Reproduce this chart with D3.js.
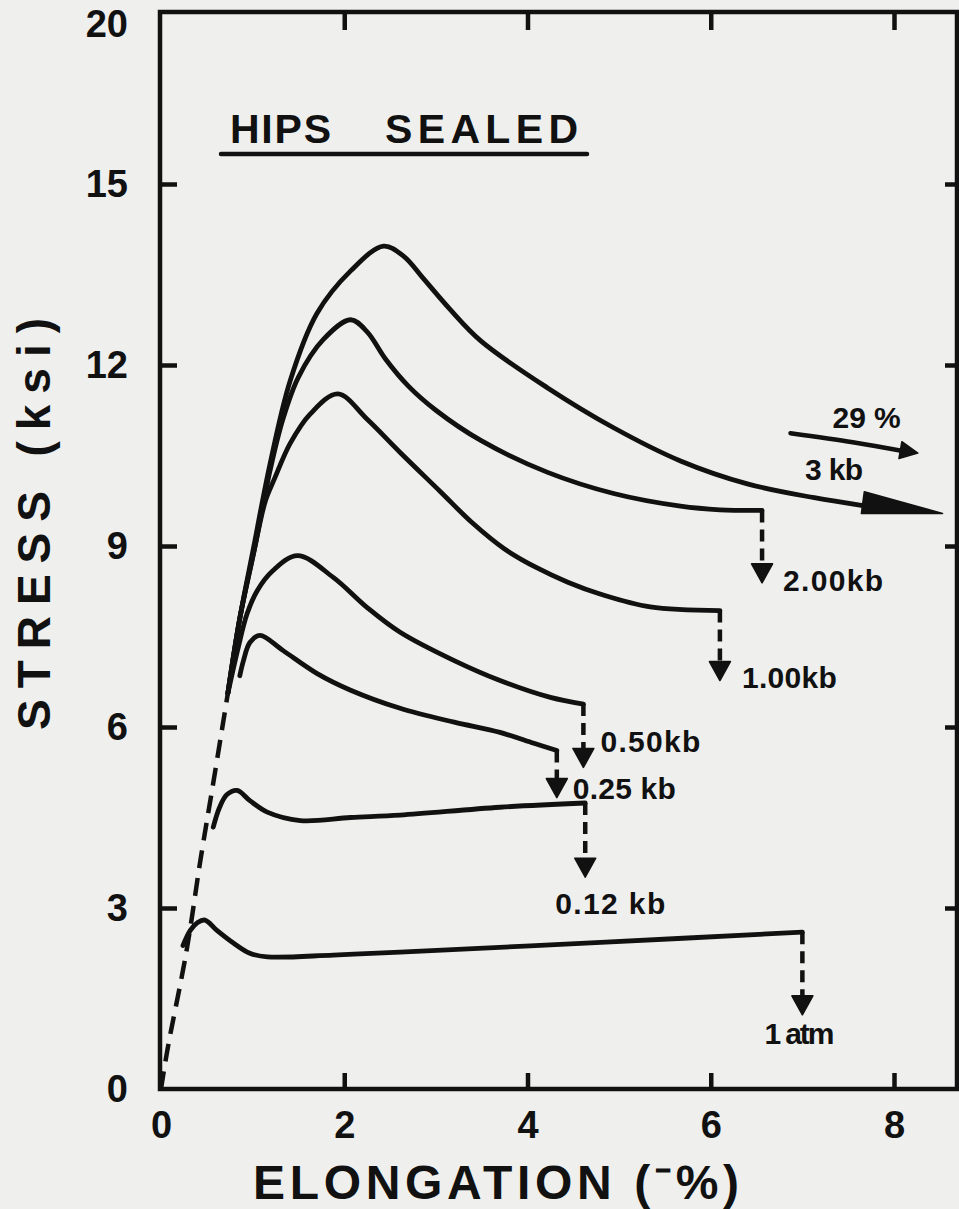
<!DOCTYPE html>
<html><head><meta charset="utf-8">
<script src="https://cdn.jsdelivr.net/npm/d3@7"></script>
<style>
html,body{margin:0;padding:0;background:#efefed;}
svg{display:block;}
text{font-family:"Liberation Sans",Arial,sans-serif;font-weight:bold;fill:#111;}
</style></head><body>
<svg id="chart" width="959" height="1209"></svg>
<script>
// ---------- data ----------
const xTickValues = [0, 2, 4, 6, 8];
const xTickLabels = ["0", "2", "4", "6", "8"];
const yTickValues = [0, 3, 6, 9, 12, 15, 17.65];
const yTickLabels = ["0", "3", "6", "9", "12", "15", "20"];

const seriesNames = ["3 kb", "2.00kb", "1.00kb", "0.50kb", "0.25 kb", "0.12 kb", "1 atm"];

const elasticLine = [[0,0],[0.07,0.65],[0.28,2.30],[0.43,3.79],[0.57,5.07],[0.73,6.56]];

const curve3kb = [[0.73,6.56],[0.86,7.8],[1.01,8.97],[1.19,10.36],[1.41,11.74],[1.70,12.85],[2.07,13.56],[2.43,13.97],[2.65,13.80],[2.86,13.44],[3.15,12.93],[3.49,12.40],[4.22,11.62],[4.94,10.96],[5.67,10.41],[6.40,10.03],[7.13,9.80],[7.66,9.67]];
const curve2kb = [[0.73,6.56],[0.86,7.8],[1.02,8.95],[1.19,10.25],[1.33,11.10],[1.50,11.80],[1.77,12.42],[2.07,12.75],[2.25,12.55],[2.45,12.10],[2.70,11.65],[3.00,11.25],[3.49,10.75],[4.22,10.22],[4.94,9.87],[5.67,9.66],[6.10,9.60],[6.56,9.59]];
const curve1kb = [[0.73,6.56],[0.86,7.8],[1.02,8.95],[1.14,9.75],[1.24,10.12],[1.41,10.70],[1.63,11.19],[1.93,11.52],[2.25,11.10],[2.61,10.55],[3.05,9.90],[3.40,9.38],[3.75,8.95],[4.10,8.64],[4.44,8.40],[4.80,8.20],[5.34,7.99],[6.10,7.93]];
const curve050kb = [[0.73,6.56],[0.84,7.3],[0.94,7.88],[1.05,8.26],[1.22,8.59],[1.49,8.84],[1.88,8.48],[2.25,7.98],[2.61,7.57],[3.20,7.10],[3.70,6.77],[4.25,6.49],[4.61,6.38]];
const curve025kb = [[0.86,6.85],[0.90,7.10],[0.97,7.40],[1.08,7.52],[1.33,7.27],[1.70,6.89],[2.07,6.61],[2.61,6.31],[3.20,6.08],[3.70,5.91],[4.07,5.73],[4.32,5.61]];
const curve012kb = [[0.57,4.34],[0.64,4.67],[0.72,4.88],[0.83,4.95],[0.97,4.78],[1.16,4.59],[1.52,4.45],[2.07,4.50],[2.61,4.54],[3.70,4.67],[4.63,4.74]];
const curve1atm = [[0.24,2.38],[0.32,2.63],[0.40,2.76],[0.48,2.80],[0.61,2.63],[0.79,2.42],[0.97,2.25],[1.16,2.19],[1.88,2.22],[2.61,2.27],[4.80,2.43],[7.00,2.60]];

// stress reached by the failure arrows (null: no failure, arrow continues)
const dropStress = [null, 8.39, 6.77, 5.33, 4.83, 3.51, 1.23];
// continuation arrow of the 3 kb curve
const arrow3kbTip = [8.53, 9.54];
// "29 %" annotation arrow
const arrow29 = [[6.87,10.87],[7.55,10.72],[8.26,10.54]];
const note29 = "29 %";
const title = ["HIPS", "SEALED"];
const xTitle = "ELONGATION (\u207B%)";
const yTitle = "STRESS (ksi)";

const curves = [curve3kb, curve2kb, curve1kb, curve050kb, curve025kb, curve012kb, curve1atm];

// ---------- layout ----------
const ink = "#111";
const frame = {left:160, right:957, top:12, bottom:1089};
const svg = d3.select("#chart");
svg.append("rect").attr("width",959).attr("height",1209).attr("fill","#efefed");

const x = d3.scaleLinear().domain([0, 8]).range([161, 894]);
const y = d3.scaleLinear().domain([0, 15]).range([1089, 184]);

// frame
svg.append("rect")
  .attr("x", frame.left).attr("y", frame.top)
  .attr("width", frame.right - frame.left).attr("height", frame.bottom - frame.top)
  .attr("fill","none").attr("stroke",ink).attr("stroke-width",4.5);

function styleAxis(g, fs){
  g.select(".domain").remove();
  g.selectAll(".tick line").attr("stroke",ink).attr("stroke-width",4.5);
  g.selectAll(".tick text").attr("font-size",fs).attr("fill",ink)
    .attr("font-family",'"Liberation Sans",Arial,sans-serif').attr("font-weight","bold");
}

// bottom axis
const gB = svg.append("g").attr("transform",`translate(0,${frame.bottom})`)
  .call(d3.axisBottom(x).tickValues(xTickValues).tickFormat((d,i)=>xTickLabels[i])
        .tickSizeInner(-16).tickSizeOuter(0).tickPadding(22));
styleAxis(gB, 38);
gB.selectAll(".tick").filter(d=>d===0).select("line").remove();

// top axis ticks
const gT = svg.append("g").attr("transform",`translate(0,${frame.top})`)
  .call(d3.axisTop(x).tickValues(xTickValues.slice(1)).tickFormat("")
        .tickSizeInner(-18).tickSizeOuter(0));
styleAxis(gT, 0);

// left axis
const gL = svg.append("g").attr("transform",`translate(${frame.left},0)`)
  .call(d3.axisLeft(y).tickValues(yTickValues).tickFormat((d,i)=>yTickLabels[i])
        .tickSizeInner(-17).tickSizeOuter(0).tickPadding(32));
styleAxis(gL, 38);
gL.selectAll(".tick").filter(d=>d===0 || d>15).select("line").remove();

// right axis ticks
const gR = svg.append("g").attr("transform",`translate(${frame.right},0)`)
  .call(d3.axisRight(y).tickValues(yTickValues.filter(v=>v>0 && v<=15)).tickFormat("")
        .tickSizeInner(-12).tickSizeOuter(0));
styleAxis(gR, 0);

// axis titles
svg.append("text").attr("x",253).attr("y",1199).attr("font-size",48)
  .attr("textLength",486).attr("lengthAdjust","spacing").text(xTitle);
svg.append("text").attr("transform","translate(50,730) rotate(-90)")
  .attr("font-size",46).attr("textLength",412).attr("lengthAdjust","spacing").text(yTitle);

// chart title
svg.append("text").attr("x",230).attr("y",143).attr("font-size",41)
  .attr("textLength",101).attr("lengthAdjust","spacing").text(title[0]);
svg.append("text").attr("x",385).attr("y",143).attr("font-size",41)
  .attr("textLength",193).attr("lengthAdjust","spacing").text(title[1]);
svg.append("line").attr("x1",221).attr("x2",587).attr("y1",154).attr("y2",154)
  .attr("stroke",ink).attr("stroke-width",4.5).attr("stroke-linecap","round");

// lines
const line = d3.line().x(d=>x(d[0])).y(d=>y(d[1])).curve(d3.curveCatmullRom.alpha(0.5));

svg.append("path").attr("d", line(elasticLine)).attr("fill","none")
  .attr("stroke",ink).attr("stroke-width",4.5).attr("stroke-dasharray","18,10");

curves.forEach(c=>{
  svg.append("path").attr("d", line(c)).attr("fill","none")
    .attr("stroke",ink).attr("stroke-width",4.8)
    .attr("stroke-linecap","round").attr("stroke-linejoin","round");
});

function head(tip, base, halfW){
  const dx=tip[0]-base[0], dy=tip[1]-base[1], L=Math.hypot(dx,dy);
  const nx=-dy/L, ny=dx/L;
  return [tip,[base[0]+nx*halfW,base[1]+ny*halfW],[base[0]-nx*halfW,base[1]-ny*halfW]];
}
function drawHead(pts){
  svg.append("path").attr("d","M"+pts.map(p=>p.join(",")).join("L")+"Z")
    .attr("fill",ink).attr("stroke",ink).attr("stroke-width",1.5).attr("stroke-linejoin","round");
}

// 3 kb continuation arrow
{
  const last = curve3kb[curve3kb.length-1];
  const base = [x(last[0]), y(last[1])-3];
  const tip = [x(arrow3kbTip[0]), y(arrow3kbTip[1])];
  drawHead(head(tip, base, 11));
}

// failure drop arrows and labels
const labelLayout = [
  null,
  {dx:21, dy:8, anchor:"start", len:100},
  {dx:22, dy:7, anchor:"start", len:95},
  {dx:17, dy:-15, anchor:"start", len:100},
  {dx:16, dy:1, anchor:"start", len:103},
  {dx:-30, dy:37, anchor:"start", len:110},
  {dx:-38, dy:29, anchor:"start", len:70}
];
curves.forEach((c,i)=>{
  if (dropStress[i]===null) return;
  const end = c[c.length-1];
  const px = x(end[0]), py0 = y(end[1]), tipY = y(dropStress[i]);
  svg.append("line").attr("x1",px).attr("x2",px).attr("y1",py0).attr("y2",tipY-14)
    .attr("stroke",ink).attr("stroke-width",4.5).attr("stroke-dasharray","12,7");
  drawHead(head([px,tipY],[px,tipY-19],10.5));
  const L = labelLayout[i];
  svg.append("text").attr("x",px+L.dx).attr("y",tipY+L.dy).attr("font-size",30)
    .attr("text-anchor",L.anchor).attr("textLength",L.len).attr("lengthAdjust","spacing")
    .text(seriesNames[i]);
});

// 3 kb label
svg.append("text").attr("x",x(7.03)).attr("y",y(10.09)).attr("font-size",30)
  .attr("textLength",58).attr("lengthAdjust","spacing").text(seriesNames[0]);

// 29 % annotation
{
  const ln = d3.line().x(d=>x(d[0])).y(d=>y(d[1])).curve(d3.curveNatural);
  const pts = arrow29.slice(0,2).concat([[arrow29[2][0]-0.15, arrow29[2][1]+0.03]]);
  svg.append("path").attr("d", ln(pts)).attr("fill","none").attr("stroke",ink)
    .attr("stroke-width",4.5).attr("stroke-linecap","round");
  const tip=[x(arrow29[2][0]), y(arrow29[2][1])];
  const base=[x(arrow29[2][0]-0.19), y(arrow29[2][1]+0.05)];
  drawHead(head(tip, base, 8.5));
  svg.append("text").attr("x",x(7.33)).attr("y",y(10.96)).attr("font-size",30)
    .attr("textLength",68).attr("lengthAdjust","spacing").text(note29);
}
</script>
</body></html>
